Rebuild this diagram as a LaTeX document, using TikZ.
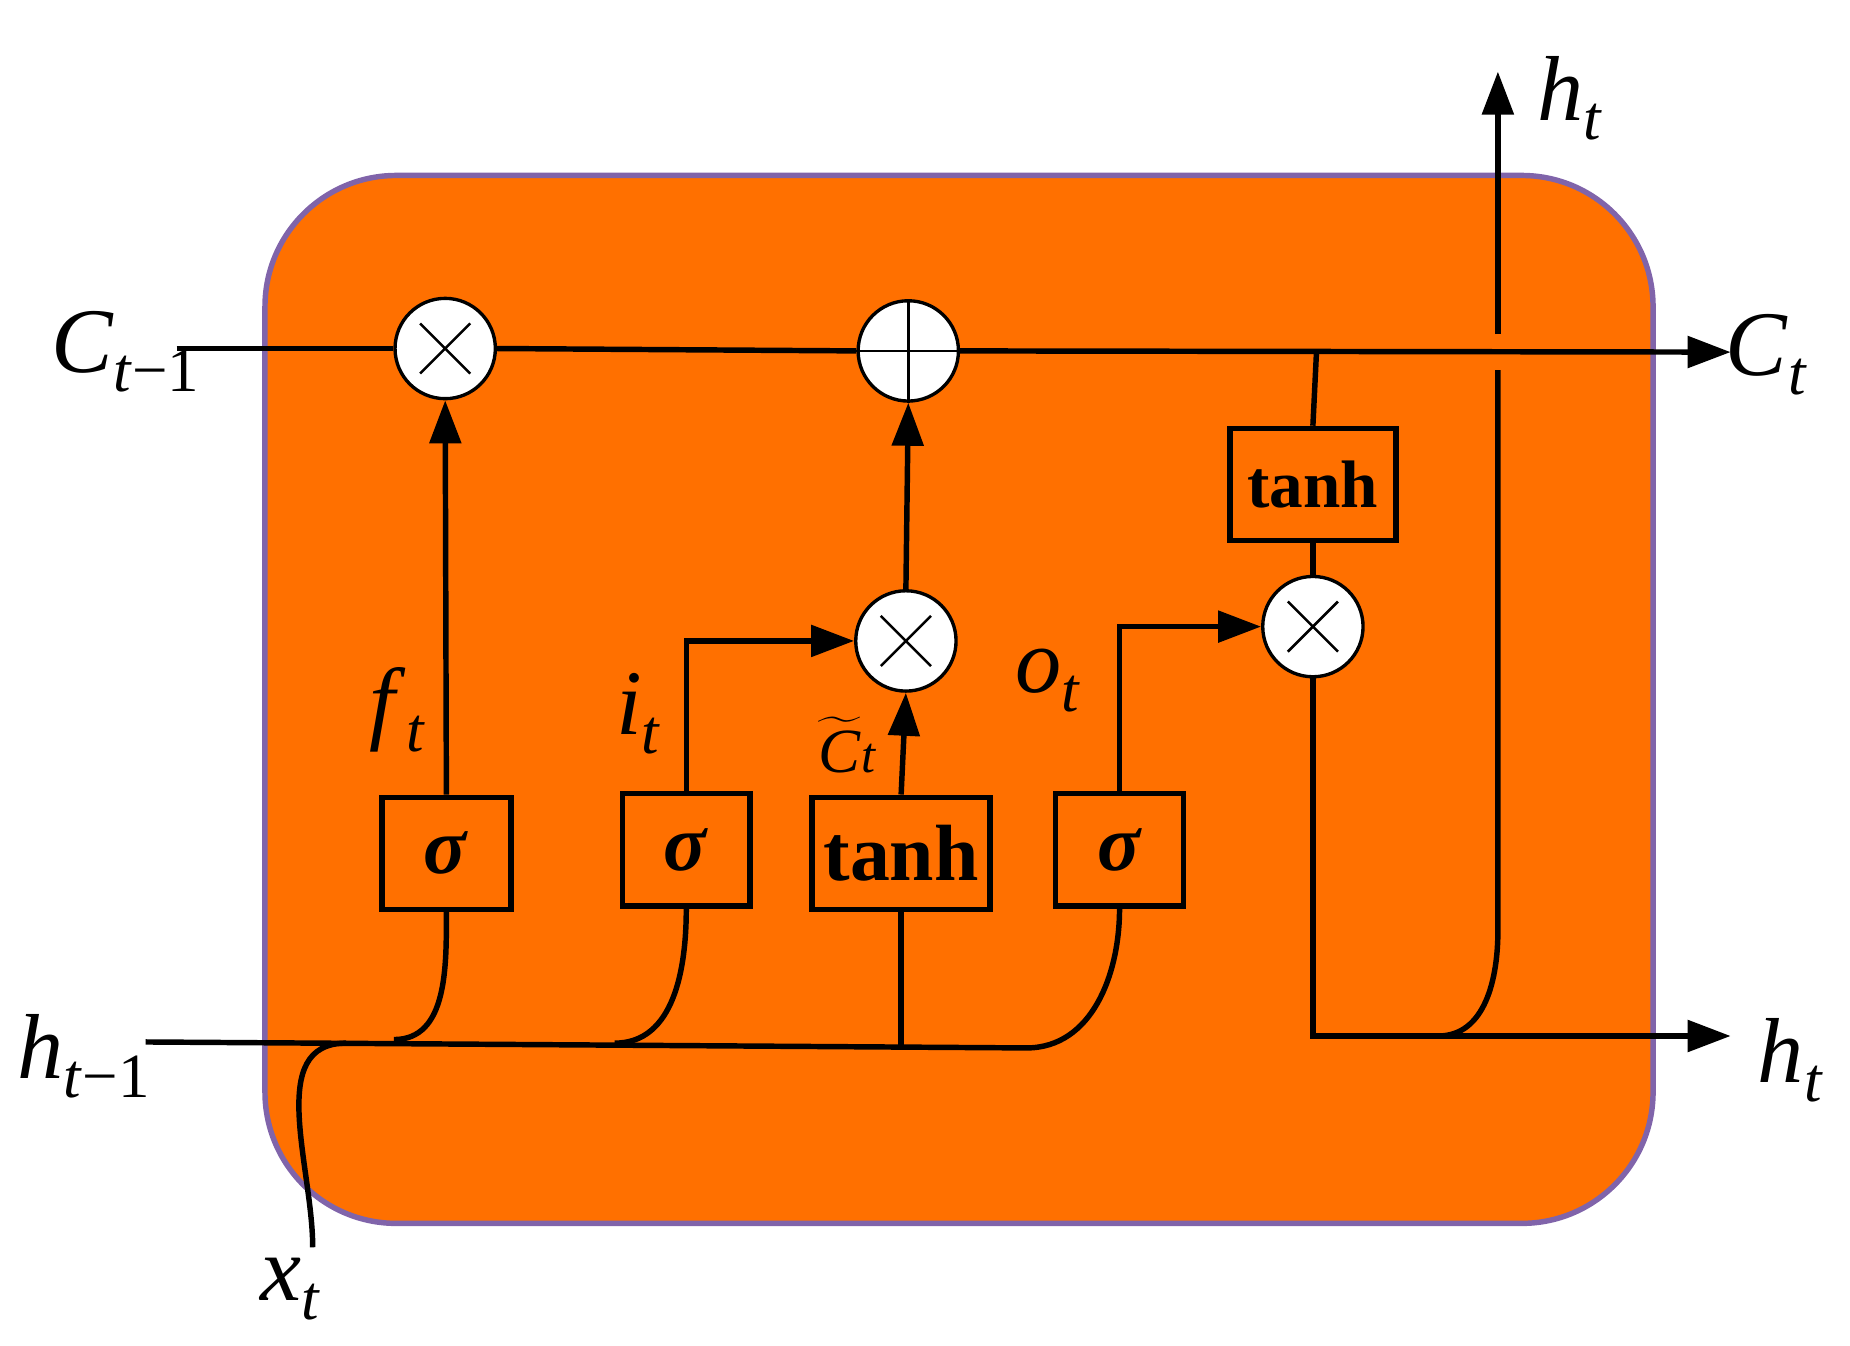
\documentclass[tikz,border=0pt]{standalone}
\usepackage{fontspec}
\setmainfont{Liberation Serif}
\usetikzlibrary{arrows.meta}
\definecolor{cellfill}{RGB}{255,112,0}
\definecolor{cellline}{RGB}{128,100,170}
\newcommand{\lab}[2]{\textit{#1}\raisebox{-0.45ex}{\fontsize{15}{16}\selectfont\textit{#2}}}
\tikzset{
  wire/.style={line width=1.3pt},
  arr/.style={wire,-{Triangle[length=3.6mm,width=2.6mm]}},
  op/.style={circle,draw,fill=white,line width=0.8pt,minimum size=0.84cm,inner sep=0pt},
  gate/.style={rectangle,draw,line width=1.3pt,minimum height=0.94cm,inner sep=0pt,font=\fontsize{19}{21}\selectfont\bfseries},
  lbl/.style={font=\fontsize{22}{24}\selectfont,inner sep=0pt}
}
\begin{document}
\begin{tikzpicture}[x=0.01cm,y=-0.01cm]
\useasboundingbox (0,0) rectangle (1550,1127);
\draw[cellline,fill=cellfill,line width=1.3pt,rounded corners=1.1cm] (222,147) rectangle (1385,1025);
% operators
\node[op] (m1) at (373,292) {};
\node[op] (pl) at (761,294) {};
\node[op] (m2) at (759,537) {};
\node[op] (m3) at (1100,525) {};
\foreach \n in {m1,m2,m3}{\draw[line width=0.6pt] (\n.center) ++(-0.21cm,-0.21cm) -- ++(0.42cm,0.42cm) (\n.center) ++(0.21cm,-0.21cm) -- ++(-0.42cm,0.42cm);}
\draw[line width=0.6pt] (pl.north)--(pl.south) (pl.west)--(pl.east);
% gates
\node[gate,minimum width=1.08cm] (sf) at (374,715) {\textit{σ}};
\node[gate,minimum width=1.07cm] (si) at (575,712) {\textit{σ}};
\node[gate,minimum width=1.49cm] (tc) at (755,715) {tanh};
\node[gate,minimum width=1.07cm] (so) at (938,712) {\textit{σ}};
\node[gate,minimum width=1.39cm,font=\fontsize{16}{18}\selectfont\bfseries] (th) at (1100,406) {tanh};
% labels
\node[lbl] (cin) at (105,295) {\lab{C}{t}\raisebox{-0.45ex}{\fontsize{15}{16}\selectfont −1}};
\node[lbl] (cout) at (1480,297) {\lab{C}{t}};
\node[lbl] (hin) at (70,885) {\lab{h}{t}\raisebox{-0.45ex}{\fontsize{15}{16}\selectfont −1}};
\node[lbl] (hout) at (1500,888) {\lab{h}{t}};
\node[lbl] (htop) at (1315,82) {\lab{h}{t}};
\node[lbl] (xin) at (243,1080) {\lab{x}{t}};
\node[lbl] at (333,595) {\lab{f}{t}};
\node[lbl] at (535,598) {\lab{i}{t}};
\node[lbl,font=\fontsize{15}{16}\selectfont] at (710,624) {$\widetilde{\mbox{\textit{C}}}$\textit{\fontsize{12}{13}\selectfont t}};
\node[lbl] at (878,570) {\lab{o}{t}};
\coordinate (cs) at (148,292);
\coordinate (ce) at (1450,295);
\coordinate (hs) at (122,873);
\coordinate (he) at (860,878);
\coordinate (tap) at (1103,295);
\coordinate (hoe) at (1450,868);
\coordinate (vt) at (1255,60);
\coordinate (xs) at (262,1045);
% cell state
\draw[wire] (cs)--(m1.west);
\draw[wire] (m1.east)--(pl.west);
\draw[arr] (pl.east)--(ce);
% hidden input
\draw[wire] (hs)--(he) to[out=0,in=-90] (so.south);
\draw[wire] (sf.south) to[out=-90,in=0] (330,871);
\draw[wire] (si.south) to[out=-90,in=0] (515,874);
\draw[wire] (tc.south)--(tc.south |- he);
\draw[wire] (xs) to[out=90,in=180] (290,874);
% gates to ops
\draw[arr] (sf.north)--(m1.south);
\draw[arr] (si.north)|-(m2.west);
\draw[arr] (tc.north)--(m2.south);
\draw[arr] (m2.north)--(pl.south);
\draw[arr] (so.north)|-(m3.west);
\draw[wire] (tap)--(th.north);
\draw[wire] (th.south)--(m3.north);
% output
\draw[arr] (m3.south)|-(hoe);
\draw[wire] (1205,868) to[out=0,in=-90] (1255,780)--(1255,310);
\draw[arr] (1255,280)--(vt);
\end{tikzpicture}
\end{document}
